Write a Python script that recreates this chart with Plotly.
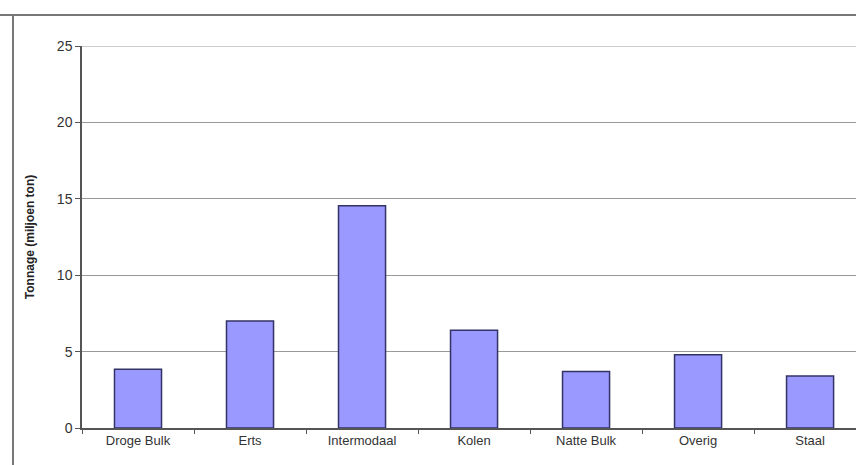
import plotly.graph_objects as go

categories = ["Droge Bulk", "Erts", "Intermodaal", "Kolen", "Natte Bulk", "Overig", "Staal"]
tonnage = [3.85, 7.0, 14.55, 6.4, 3.7, 4.8, 3.4]
y_ticks = [0, 5, 10, 15, 20, 25]

fig = go.Figure()
fig.add_trace(go.Bar(
    x=categories, y=tonnage, width=0.42,
    marker=dict(color="#9999ff", line=dict(color="#333366", width=1.5)),
))

fig.update_layout(
    width=856, height=465,
    margin=dict(l=82, r=0, t=46, b=37),
    paper_bgcolor="white", plot_bgcolor="white",
    font=dict(family="Liberation Sans, Arial", size=13, color="#333"),
    showlegend=False,
    shapes=[
        dict(type="line", xref="paper", yref="paper", x0=-82/774, x1=1.05,
             y0=1 + 31/382, y1=1 + 31/382, line=dict(color="#777", width=2)),
        dict(type="line", xref="paper", yref="paper", x0=-69/774, x1=-69/774,
             y0=-0.2, y1=1 + 31/382, line=dict(color="#777", width=2)),
        dict(type="line", xref="paper", yref="y", x0=0, x1=1, y0=25, y1=25,
             line=dict(color="#999", width=1)),
    ],
)
fig.update_xaxes(
    range=[-0.5, 6.41], showline=True, linecolor="#555", linewidth=1.5,
    ticks="outside", tickson="boundaries", ticklen=4, tickcolor="#555",
    showgrid=False, tickfont=dict(size=13, color="#333"),
)
fig.update_yaxes(
    range=[0, 25], tickvals=y_ticks, showline=True, linecolor="#555", linewidth=1.5,
    ticks="outside", ticklen=5, tickcolor="#555",
    showgrid=True, gridcolor="#999", gridwidth=1, zeroline=False,
    tickfont=dict(size=14, color="#333"),
    title=dict(text="<b>Tonnage (miljoen ton)</b>", font=dict(size=12, color="#222"), standoff=20),
)
fig.write_html("out.html")
